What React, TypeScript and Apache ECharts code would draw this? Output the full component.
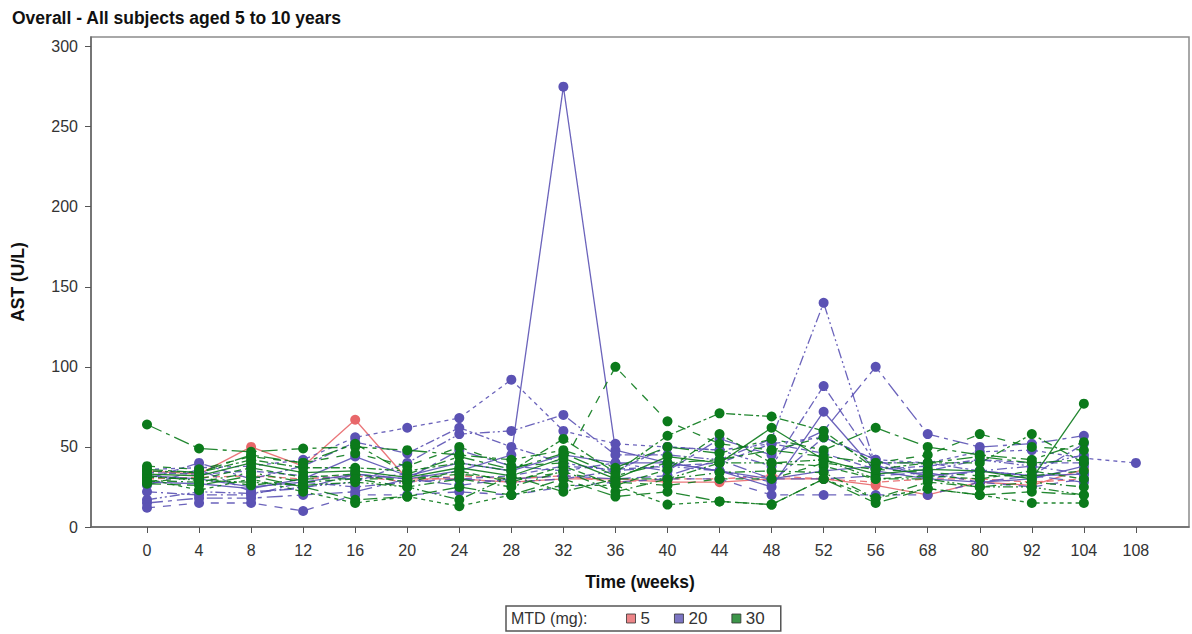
import React, { useEffect, useRef } from "react";
import * as echarts from "echarts";

const WEEKS = [0, 4, 8, 12, 16, 20, 24, 28, 32, 36, 40, 44, 48, 52, 56, 68, 80, 92, 104, 108];
const Y_TICKS = [0, 50, 100, 150, 200, 250, 300];
const X_TICKS = WEEKS.map((_, i) => i);

// MTD 5 mg
const R1 = [35, 33, 50, 38, 67, 30, 30, 28, 30, 30, 28, 28, 30, 30, 26, 20, 28, 26, 36, null];
const R2 = [30, 31, 32, 30, 32, 28, 32, 30, 32, 28, 30, 30, 32, 30, 28, 30, 30, 28, 30, null];

// MTD 20 mg
const B1 = [32, 30, 25, 28, 33, 30, 35, 45, 275, 48, 40, 35, 30, 35, 38, 32, 35, 32, 33, null];
const B2 = [36, 37, 38, 42, 56, 62, 68, 92, 60, 52, 50, 48, 52, 56, 42, 40, 47, 48, 43, 40];
const B3 = [17, 22, 21, 25, 28, 40, 58, 60, 70, 45, 45, 42, 55, 140, 38, 35, 42, 38, 45, null];
const B4 = [15, 18, 18, 20, 22, 30, 48, 38, 35, 40, 35, 55, 45, 60, 100, 58, 50, 52, 57, null];
const B5 = [12, 15, 15, 10, 20, 20, 22, 20, 25, 28, 30, 30, 20, 20, 20, 20, 28, 25, 30, null];
const B6 = [30, 40, 30, 38, 53, 46, 62, 50, 40, 35, 50, 48, 38, 88, 40, 40, 35, 32, 52, null];
const B7 = [28, 27, 24, 30, 44, 32, 40, 35, 45, 40, 40, 35, 25, 72, 35, 30, 28, 30, 38, null];
const B8 = [34, 33, 35, 32, 30, 33, 30, 32, 38, 36, 38, 40, 52, 46, 36, 38, 42, 40, 40, null];
const B9 = [22, 20, 20, 28, 25, 28, 30, 28, 30, 35, 38, 35, 28, 56, 42, 30, 35, 38, 33, null];
const B10 = [26, 36, 22, 24, 33, 30, 26, 30, 32, 30, 32, 42, 30, 30, 32, 34, 28, 32, 28, null];

// MTD 30 mg
const G1 = [64, 49, 47, 49, 50, 48, 45, 42, 48, 37, 50, 46, 55, 48, 62, 50, 45, 42, 53, null];
const G2 = [38, 36, 44, 40, 46, 38, 50, 38, 40, 100, 66, 52, 48, 56, 40, 45, 58, 50, 48, null];
const G3 = [35, 34, 42, 37, 37, 35, 40, 35, 55, 34, 57, 71, 69, 60, 36, 40, 40, 58, 40, null];
const G4 = [33, 32, 40, 34, 35, 31, 37, 32, 43, 30, 44, 40, 62, 42, 33, 36, 35, 30, 77, null];
const G5 = [31, 30, 37, 31, 33, 28, 35, 28, 38, 26, 36, 58, 40, 38, 30, 32, 30, 35, 30, null];
const G6 = [29, 28, 34, 28, 30, 25, 30, 25, 35, 22, 30, 34, 35, 34, 18, 28, 25, 28, 25, null];
const G7 = [27, 26, 32, 25, 17, 19, 25, 20, 30, 19, 22, 16, 14, 30, 15, 24, 20, 22, 20, null];
const G8 = [30, 23, 30, 22, 15, 19, 13, 20, 26, 26, 14, 16, 14, 30, 18, 24, 20, 15, 15, null];
const G9 = [32, 29, 28, 26, 28, 25, 17, 32, 22, 30, 30, 40, 40, 42, 30, 30, 25, 25, 20, null];
const G10 = [36, 34, 45, 40, 52, 33, 44, 36, 46, 32, 40, 42, 48, 44, 40, 40, 44, 40, 42, null];
const G11 = [28, 31, 26, 30, 30, 30, 33, 30, 34, 28, 26, 30, 30, 40, 36, 34, 32, 32, 35, null];

const RED_SUBJECTS = [R1, R2];
const BLUE_SUBJECTS = [B1, B2, B3, B4, B5, B6, B7, B8, B9, B10];
const GREEN_SUBJECTS = [G1, G2, G3, G4, G5, G6, G7, G8, G9, G10, G11];

const GROUPS = ["5", "20", "30"];
const COLORS = ["#E8676A", "#5B52B4", "#0B7A1B"];

const DASHES: any[] = [
  "solid",
  [7, 4],
  [10, 4, 2, 4],
  [14, 6],
  [4, 4],
  [10, 3, 2, 3, 2, 3],
  [16, 5, 4, 5],
  [8, 8],
  [3, 3, 9, 3],
];

export default function App() {
  const ref = useRef<HTMLDivElement>(null);

  useEffect(() => {
    if (!ref.current) return;
    const chart = echarts.init(ref.current, undefined, { renderer: "svg" });

    const font = "Liberation Sans, Arial, sans-serif";
    const series: any[] = [];
    const groups = [RED_SUBJECTS, BLUE_SUBJECTS, GREEN_SUBJECTS];
    groups.forEach((subjects, g) => {
      subjects.forEach((vals, k) => {
        const data: any[] = [];
        vals.forEach((v, i) => {
          if (v !== null && v !== undefined) data.push([i, v]);
        });
        let dash = DASHES[(k + g * 3) % DASHES.length];
        if (g === 1 && k === 0) dash = "solid";
        if (g === 0 && k === 0) dash = "solid";
        series.push({
          name: "subj-" + GROUPS[g] + "-" + k,
          type: "line",
          data,
          symbol: "circle",
          symbolSize: 10,
          showSymbol: true,
          itemStyle: { color: COLORS[g] },
          lineStyle: { color: COLORS[g], width: 1.3, type: dash, opacity: 0.9 },
          z: 2 + g,
          silent: true,
        });
      });
    });
    GROUPS.forEach((name, g) => {
      series.push({
        name,
        type: "scatter",
        data: [],
        itemStyle: { color: COLORS[g] },
      });
    });

    chart.setOption({
      animation: false,
      title: {
        text: "Overall - All subjects aged 5 to 10 years",
        left: 7,
        top: 4,
        textStyle: { fontFamily: font, fontSize: 17.5, fontWeight: "bold", color: "#111" },
      },
      grid: {
        left: 91,
        right: 3,
        top: 37,
        bottom: 107,
        show: true,
        borderColor: "#8c8c8c",
        borderWidth: 1.5,
        containLabel: false,
      },
      xAxis: {
        type: "value",
        min: -1.076,
        max: 20.02,
        name: "Time (weeks)",
        nameLocation: "middle",
        nameGap: 46,
        nameTextStyle: { fontFamily: font, fontSize: 17.5, fontWeight: "bold", color: "#111" },
        axisLine: { show: true, onZero: false, lineStyle: { color: "#666", width: 1.5 } },
        axisTick: { show: true, length: 6, customValues: X_TICKS, lineStyle: { color: "#555" } },
        axisLabel: {
          customValues: X_TICKS,
          margin: 15,
          fontFamily: font,
          fontSize: 16,
          color: "#333",
          formatter: (v: number) => {
            const i = Math.round(v);
            return WEEKS[i] !== undefined ? String(WEEKS[i]) : "";
          },
        },
        splitLine: { show: false },
      },
      yAxis: {
        type: "value",
        min: 0,
        max: 306,
        name: "AST (U/L)",
        nameLocation: "middle",
        nameGap: 64,
        nameTextStyle: { fontFamily: font, fontSize: 17.5, fontWeight: "bold", color: "#111" },
        axisLine: { show: true, onZero: false, lineStyle: { color: "#666", width: 1.5 } },
        axisTick: { show: true, length: 6, customValues: Y_TICKS, lineStyle: { color: "#555" } },
        axisLabel: {
          customValues: Y_TICKS,
          margin: 13,
          fontFamily: font,
          fontSize: 16,
          color: "#333",
        },
        splitLine: { show: false },
      },
      legend: {
        data: GROUPS,
        left: 506,
        top: 606,
        orient: "horizontal",
        icon: "rect",
        itemWidth: 9,
        itemHeight: 9,
        itemGap: 24,
        padding: [4, 16, 4, 120],
        borderColor: "#555",
        borderWidth: 1.5,
        selectedMode: false,
        itemStyle: { borderColor: "#333", borderWidth: 1 },
        textStyle: { fontFamily: font, fontSize: 17, color: "#333" },
      },
      graphic: [
        {
          type: "text",
          left: 511,
          top: 610,
          style: { text: "MTD (mg):", fontFamily: font, fontSize: 16, fill: "#333" },
          z: 100,
        },
      ],
      series,
    });

    return () => chart.dispose();
  }, []);

  return <div ref={ref} style={{ width: 1192, height: 634, position: "absolute", left: 0, top: 0 }} />;
}
